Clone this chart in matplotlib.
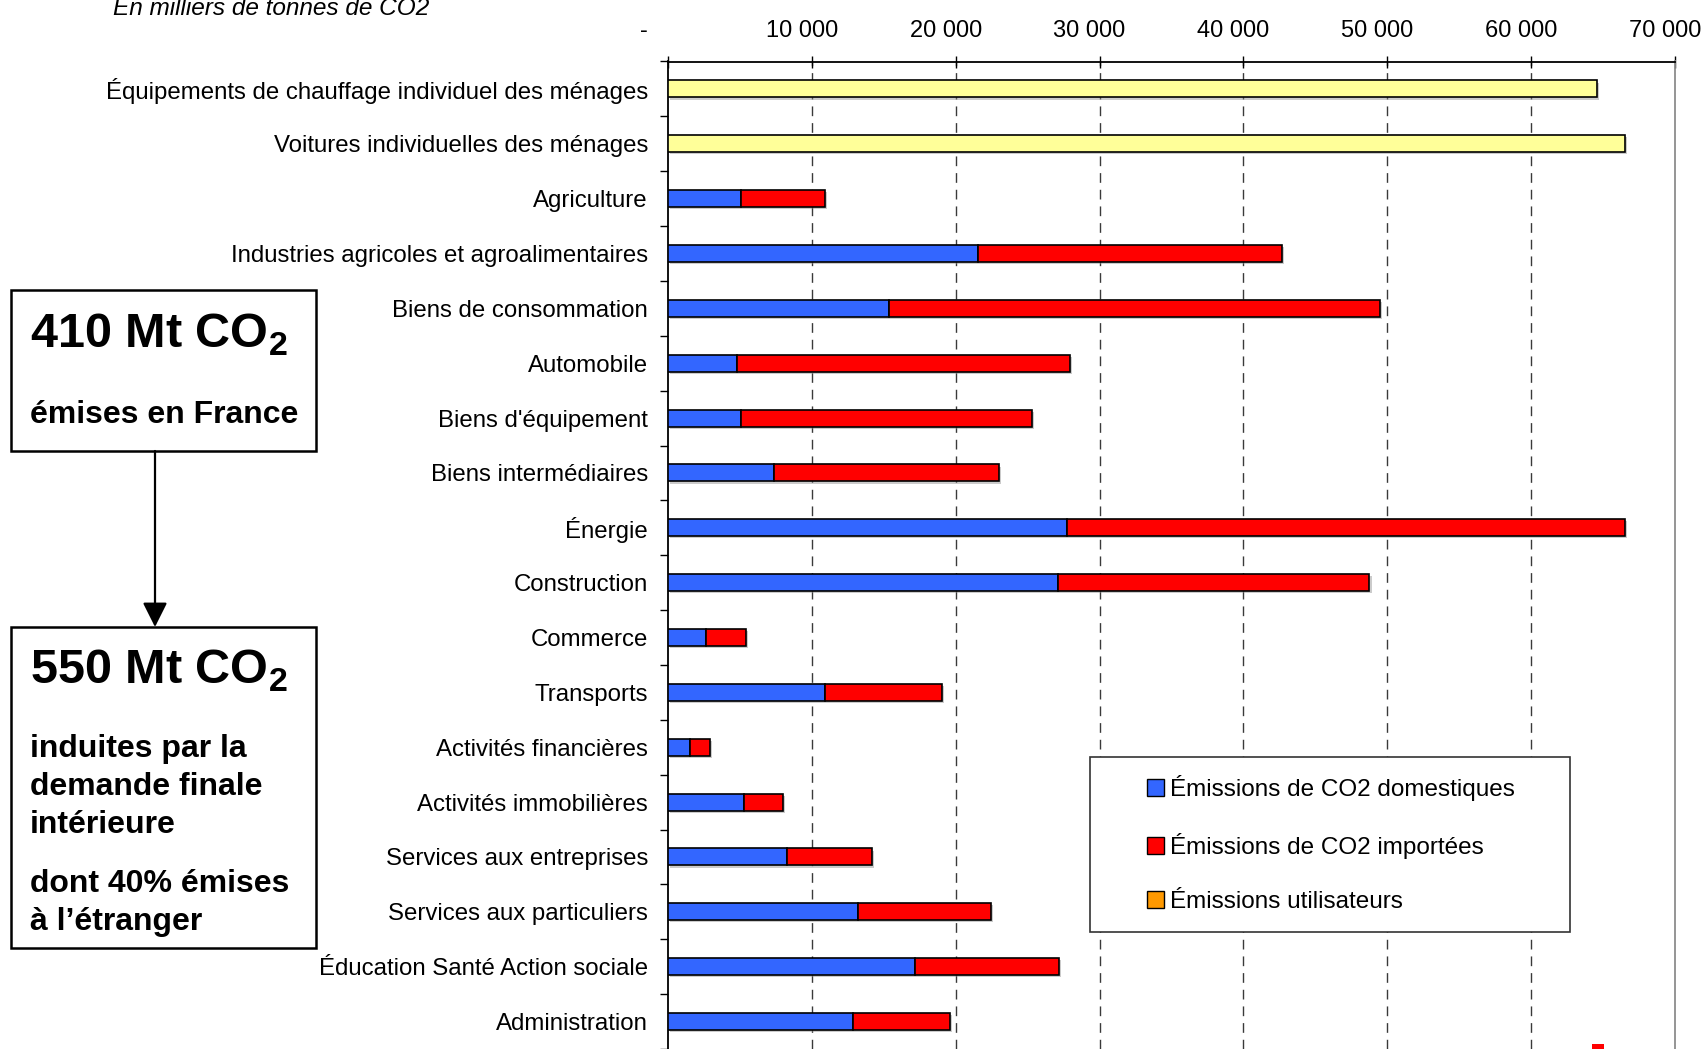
import matplotlib
matplotlib.use("Agg")
import matplotlib.pyplot as plt
import numpy as np
from matplotlib.patches import Rectangle, Patch, FancyArrowPatch
from matplotlib.transforms import blended_transform_factory, ScaledTranslation
import matplotlib.patheffects as pe

plt.rcParams["font.family"] = ["Liberation Sans", "DejaVu Sans"]
plt.rcParams["mathtext.fontset"] = "custom"
plt.rcParams["mathtext.rm"] = "Liberation Sans"
plt.rcParams["mathtext.bf"] = "Liberation Sans:bold"

# ---- data (milliers de tonnes de CO2) ----
categories = [
    "Équipements de chauffage individuel des ménages",
    "Voitures individuelles des ménages",
    "Agriculture",
    "Industries agricoles et agroalimentaires",
    "Biens de consommation",
    "Automobile",
    "Biens d'équipement",
    "Biens intermédiaires",
    "Énergie",
    "Construction",
    "Commerce",
    "Transports",
    "Activités financières",
    "Activités immobilières",
    "Services aux entreprises",
    "Services aux particuliers",
    "Éducation Santé Action sociale",
    "Administration",
]
domestiques = [0, 0, 5100, 21560, 15340, 4780, 5100, 7390, 27740, 27080,
               2610, 10920, 1550, 5270, 8290, 13210, 17160, 12860]
importees = [0, 0, 5780, 21140, 34160, 23170, 20170, 15620, 38760, 21680,
             2790, 8130, 1380, 2700, 5870, 9260, 10020, 6720]
utilisateurs = [64560, 66490, 0, 0, 0, 0, 0, 0, 0, 0,
                0, 0, 0, 0, 0, 0, 0, 0]
xtick_values = [0, 10000, 20000, 30000, 40000, 50000, 60000, 70000]
xtick_labels = ["-", "10 000", "20 000", "30 000", "40 000", "50 000", "60 000", "70 000"]
legend_labels = ["Émissions de CO2 domestiques", "Émissions de CO2 importées",
                 "Émissions utilisateurs"]

C_DOM = "#3366FF"
C_IMP = "#FF0000"
C_USR = "#FFFF99"
C_USR_LEG = "#FF9900"

W, H = 1704, 1049
DPI = 100
fig = plt.figure(figsize=(W / DPI, H / DPI), dpi=DPI)


def fx(px):
    return px / W


def fy(py):
    return 1 - py / H


# axes occupying the right part of the figure
ax_left, ax_right, ax_top, ax_bot = 668, 1675, 61.5, 1049
ax = fig.add_axes([fx(ax_left), fy(ax_bot), (ax_right - ax_left) / W, (ax_bot - ax_top) / H])

y = np.arange(len(categories))
dom = np.array(domestiques, dtype=float)
imp = np.array(importees, dtype=float)
usr = np.array(utilisateurs, dtype=float)

shadow = [pe.SimplePatchShadow(offset=(1.5, -1.5), shadow_rgbFace="0.55", alpha=0.45), pe.Normal()]
bh = 0.31
kw = dict(height=bh, edgecolor="black", linewidth=1.2, zorder=3)
b1 = ax.barh(y, dom, color=C_DOM, **kw)
b2 = ax.barh(y, imp, left=dom, color=C_IMP, **kw)
b3 = ax.barh(y, usr, left=dom + imp, color=C_USR, **kw)
for cont in (b1, b2, b3):
    for p in cont:
        if p.get_width() > 0:
            p.set_path_effects(shadow)
        else:
            p.set_visible(False)

ax.set_xlim(0, 70000)
ax.set_ylim(17.5 - 3 / 55, -0.5)

# vertical dashed grid
for v in xtick_values[1:-1]:
    ax.axvline(v, color="#3a3a3a", linewidth=1.0, linestyle=(0, (7, 5)), zorder=1)

# spines
ax.spines["bottom"].set_visible(False)
ax.spines["top"].set_color("black")
ax.spines["top"].set_linewidth(1.3)
ax.spines["left"].set_color("black")
ax.spines["left"].set_linewidth(1.3)
ax.spines["right"].set_color("#8c8c8c")
ax.spines["right"].set_linewidth(1.3)

# x ticks on top with labels slightly left of the ticks
ax.xaxis.tick_top()
ax.set_xticks(xtick_values)
ax.set_xticklabels([])
ax.tick_params(axis="x", direction="inout", length=8, width=1, color="black")
lab_tr = blended_transform_factory(ax.transData, fig.transFigure)
for v, lab in zip(xtick_values, xtick_labels):
    shift = -24 if lab == "-" else -10
    ax.text(v, fy(37), lab, transform=lab_tr + ScaledTranslation(shift / DPI, 0, fig.dpi_scale_trans),
            ha="center", va="baseline", fontsize=17, color="black", clip_on=False)

# category labels, tick marks at category boundaries
ax.set_yticks(y)
ax.set_yticklabels(categories, fontsize=17.3)
ax.tick_params(axis="y", which="major", length=0, pad=14.4)
ax.set_yticks(np.arange(len(categories) + 1) - 0.5, minor=True)
ax.tick_params(axis="y", which="minor", direction="out", length=5.5, width=1, color="black")

# unit caption
fig.text(fx(113), fy(15), "En milliers de tonnes de CO2", fontsize=17.6, style="italic",
         ha="left", va="baseline")

# ---- left side boxes ----
fig.patches.append(Rectangle((fx(11), fy(451)), (316 - 11) / W, (451 - 290) / H,
                             transform=fig.transFigure, fill=False, edgecolor="black", linewidth=1.8))
fig.patches.append(Rectangle((fx(11), fy(948)), (316 - 11) / W, (948 - 627) / H,
                             transform=fig.transFigure, fill=False, edgecolor="black", linewidth=1.8))
arrow = FancyArrowPatch((fx(155), fy(451)), (fx(155), fy(627)), transform=fig.transFigure,
                        arrowstyle="-|>,head_length=1.5,head_width=0.75", mutation_scale=10,
                        color="black", linewidth=1.6, shrinkA=0, shrinkB=0)
fig.patches.append(arrow)

big = dict(fontsize=35, fontweight="bold", ha="left", va="baseline")
body = dict(fontsize=23, fontweight="bold", ha="left", va="baseline")
fig.text(fx(30), fy(348), r"410 Mt CO$_\mathbf{2}$", **big)
fig.text(fx(30), fy(423), "émises en France", **body)
fig.text(fx(30), fy(684), r"550 Mt CO$_\mathbf{2}$", **big)
for txt, by in [("induites par la", 757), ("demande finale", 795), ("intérieure", 833),
                ("dont 40% émises", 892), ("à l’étranger", 930)]:
    fig.text(fx(30), fy(by), txt, **body)

# ---- legend ----
fig.patches.append(Rectangle((fx(1090), fy(932)), (1570 - 1090) / W, (932 - 757) / H,
                             transform=fig.transFigure, facecolor="white", edgecolor="#333333",
                             linewidth=1.2, zorder=5))
handles = [Patch(facecolor=c, edgecolor="black", linewidth=1.0) for c in (C_DOM, C_IMP, C_USR_LEG)]
leg = fig.legend(handles, legend_labels, loc="center left", bbox_to_anchor=(fx(1147), fy(844)),
                 frameon=False, fontsize=17.5, borderpad=0, borderaxespad=0,
                 handlelength=0.7, handleheight=0.7, handletextpad=0.25, labelspacing=1.33)
leg.set_zorder(6)

# small red mark at the bottom edge
fig.patches.append(Rectangle((fx(1592), fy(1049)), 12 / W, 5 / H, transform=fig.transFigure,
                             facecolor="#FF0000", edgecolor="none"))

fig.savefig("out.png", dpi=DPI)
